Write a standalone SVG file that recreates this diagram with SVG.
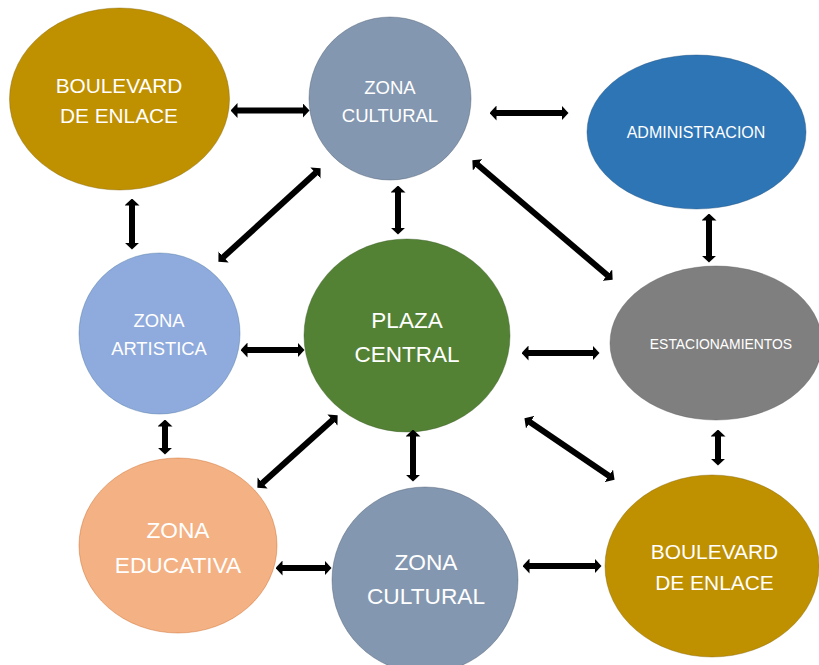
<svg xmlns="http://www.w3.org/2000/svg" width="819" height="665" viewBox="0 0 819 665">
<style>
.n{stroke-width:0.8;stroke-opacity:0.5}
.t{font-family:"Liberation Sans",Arial,sans-serif;fill:#ffffff;text-anchor:middle}
.c line{stroke:#000;stroke-width:6;marker-start:url(#h);marker-end:url(#h)}
</style>
<defs>
<marker id="h" markerUnits="userSpaceOnUse" viewBox="0 0 7 15" markerWidth="7" markerHeight="15" refX="0.5" refY="7.5" orient="auto-start-reverse">
<path d="M0,0 L7,7.5 L0,15 z" fill="#000"/>
</marker>
</defs>
<rect width="819" height="665" fill="#fff"/>
<g id="boulevard-top">
<ellipse class="n" cx="119.5" cy="99" rx="110" ry="91" fill="#BF9000" stroke="#7F6000"/>
<text class="t" x="119" y="93" font-size="20.8">BOULEVARD</text>
<text class="t" x="119" y="123" font-size="20.8">DE ENLACE</text>
</g>
<g id="zona-cultural-top">
<ellipse class="n" cx="390" cy="98.5" rx="81" ry="81.5" fill="#8497B0" stroke="#44546A"/>
<text class="t" x="390" y="94" font-size="18.5">ZONA</text>
<text class="t" x="390" y="122" font-size="18.5">CULTURAL</text>
</g>
<g id="administracion">
<ellipse class="n" cx="696.5" cy="132" rx="109.5" ry="77" fill="#2E75B6" stroke="#1F4E79"/>
<text class="t" x="696" y="138" font-size="16">ADMINISTRACION</text>
</g>
<g id="zona-artistica">
<ellipse class="n" cx="159.5" cy="333.5" rx="80.5" ry="80.5" fill="#8FAADC" stroke="#41719C"/>
<text class="t" x="159" y="327" font-size="18.4">ZONA</text>
<text class="t" x="159" y="355" font-size="18.4">ARTISTICA</text>
</g>
<g id="plaza-central">
<ellipse class="n" cx="407" cy="335.5" rx="103" ry="96.5" fill="#548235" stroke="#385723"/>
<text class="t" x="407" y="328" font-size="22.5">PLAZA</text>
<text class="t" x="407" y="362" font-size="22.5">CENTRAL</text>
</g>
<g id="estacionamientos">
<ellipse class="n" cx="716" cy="343" rx="106" ry="77" fill="#7F7F7F" stroke="#595959"/>
<text class="t" x="721" y="349" font-size="13.9">ESTACIONAMIENTOS</text>
</g>
<g id="zona-educativa">
<ellipse class="n" cx="178" cy="545.5" rx="99" ry="87.5" fill="#F4B183" stroke="#C55A11"/>
<text class="t" x="178" y="538" font-size="22.7">ZONA</text>
<text class="t" x="178" y="573" font-size="22.7">EDUCATIVA</text>
</g>
<g id="zona-cultural-bottom">
<ellipse class="n" cx="425" cy="580" rx="93" ry="93" fill="#8497B0" stroke="#44546A"/>
<text class="t" x="426" y="570" font-size="22.7">ZONA</text>
<text class="t" x="426" y="604" font-size="22.7">CULTURAL</text>
</g>
<g id="boulevard-bottom">
<ellipse class="n" cx="712" cy="566" rx="107" ry="91" fill="#BF9000" stroke="#7F6000"/>
<text class="t" x="714.5" y="559" font-size="20.9">BOULEVARD</text>
<text class="t" x="714.5" y="590" font-size="20.9">DE ENLACE</text>
</g>
<g id="connectors" class="c">
<line x1="237" y1="110.5" x2="303" y2="110.5"/>
<line x1="496" y1="113" x2="562" y2="113"/>
<line x1="247" y1="350" x2="298" y2="350"/>
<line x1="528" y1="353" x2="593" y2="353"/>
<line x1="282" y1="568" x2="325" y2="568"/>
<line x1="529" y1="566" x2="595" y2="566"/>
<line x1="132" y1="205" x2="132" y2="243"/>
<line x1="398" y1="192" x2="398" y2="228"/>
<line x1="709" y1="220" x2="709" y2="256"/>
<line x1="165" y1="426" x2="165" y2="448"/>
<line x1="413" y1="436" x2="413" y2="475"/>
<line x1="718" y1="436" x2="718" y2="459"/>
<line x1="315.8" y1="172.7" x2="223.2" y2="257.3"/>
<line x1="477.3" y1="164.5" x2="607.7" y2="275.5"/>
<line x1="332.8" y1="419.7" x2="262.2" y2="483.3"/>
<line x1="529.8" y1="421.9" x2="609.2" y2="476.1"/>
</g>
</svg>
